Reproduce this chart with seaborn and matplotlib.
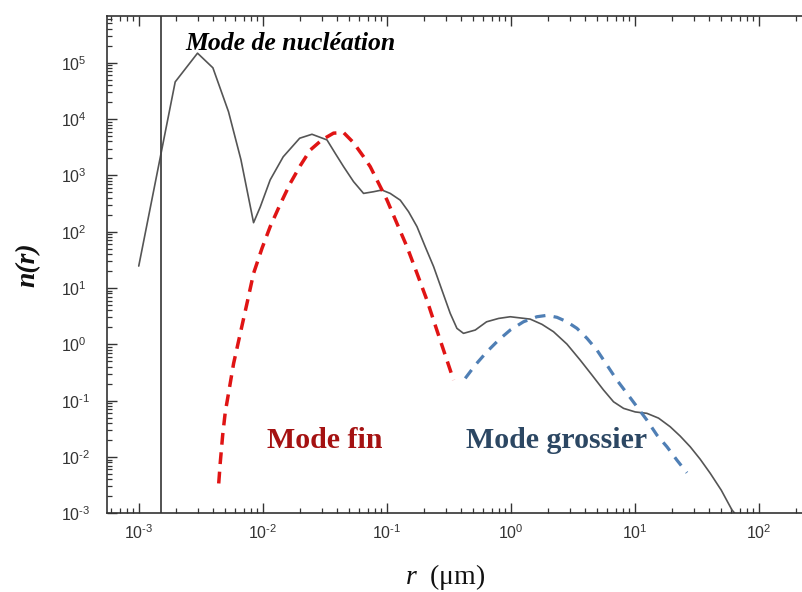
import numpy as np
import pandas as pd
import matplotlib
matplotlib.use("Agg")
import matplotlib.pyplot as plt
import seaborn as sns
from matplotlib.ticker import LogLocator, FuncFormatter, NullFormatter

# ---- data (log10 of r in µm, log10 of n(r)) ----
total_log_r = [-3.0, -2.706, -2.526, -2.402, -2.276, -2.176, -2.074, -2.020, -1.940,
               -1.835, -1.702, -1.603, -1.482, -1.415, -1.348, -1.268, -1.187, -1.106,
               -1.039, -0.972, -0.891, -0.824, -0.756, -0.689, -0.622, -0.555, -0.488,
               -0.434, -0.381, -0.286, -0.195, -0.098, -0.004, 0.157, 0.252, 0.345,
               0.453, 0.560, 0.655, 0.748, 0.829, 0.910, 1.004, 1.098, 1.192, 1.286,
               1.367, 1.448, 1.528, 1.609, 1.698, 1.784, 1.83]
total_log_n = [1.39, 4.66, 5.17, 4.91, 4.13, 3.28, 2.16, 2.44, 2.92,
               3.33, 3.66, 3.73, 3.63, 3.39, 3.155, 2.89, 2.68, 2.71,
               2.74, 2.68, 2.56, 2.355, 2.09, 1.73, 1.38, 0.964, 0.55,
               0.284, 0.195, 0.254, 0.40, 0.46, 0.49, 0.448, 0.355, 0.224,
               0.005, -0.279, -0.545, -0.81, -1.02, -1.137, -1.20, -1.225, -1.31, -1.463,
               -1.63, -1.82, -2.04, -2.29, -2.59, -2.94, -3.06]

fin_log_r = [-2.355, -2.343, -2.323, -2.302, -2.276, -2.235, -2.181, -2.127, -2.074,
             -2.006, -1.940, -1.859, -1.778, -1.698, -1.617, -1.523, -1.429, -1.348,
             -1.268, -1.187, -1.133, -1.079, -0.998, -0.918, -0.837, -0.756, -0.676,
             -0.623, -0.569, -0.515, -0.461]
fin_log_n = [-2.47, -2.11, -1.61, -1.20, -0.87, -0.34, 0.195, 0.728, 1.26,
             1.705, 2.09, 2.487, 2.86, 3.17, 3.45, 3.63, 3.75, 3.76,
             3.581, 3.332, 3.155, 2.918, 2.563, 2.149, 1.734, 1.261, 0.787,
             0.432, 0.076, -0.279, -0.634]

gros_log_r = [-0.367, -0.286, -0.192, -0.098, -0.004, 0.103, 0.211, 0.292, 0.373,
              0.453, 0.534, 0.615, 0.695, 0.776, 0.856, 0.937, 1.018, 1.098,
              1.179, 1.260, 1.340, 1.421]
gros_log_n = [-0.604, -0.368, -0.131, 0.076, 0.254, 0.401, 0.49, 0.515, 0.48,
              0.401, 0.284, 0.107, -0.101, -0.368, -0.634, -0.870, -1.108, -1.345,
              -1.611, -1.819, -2.055, -2.28]

nucleation_r = 1.5e-3
labels = ["Mode de nucléation", "Mode fin", "Mode grossier"]

df_total = pd.DataFrame({"r": np.power(10.0, total_log_r), "n": np.power(10.0, total_log_n)})
df_fin = pd.DataFrame({"r": np.power(10.0, fin_log_r), "n": np.power(10.0, fin_log_n)})
df_gros = pd.DataFrame({"r": np.power(10.0, gros_log_r), "n": np.power(10.0, gros_log_n)})

sns.set_style("ticks")
plt.rcParams["font.family"] = ["Liberation Sans", "DejaVu Sans"]
plt.rcParams["mathtext.fontset"] = "custom"
plt.rcParams["mathtext.default"] = "regular"
plt.rcParams["mathtext.it"] = "Liberation Serif:italic"
plt.rcParams["mathtext.rm"] = "Liberation Sans"
plt.rcParams["axes.unicode_minus"] = False


def pow_fmt(v, _pos):
    if v <= 0:
        return ""
    k = int(round(np.log10(v)))
    if k < 0:
        return r"$\mathdefault{10^{\text{-}%d}}$" % (-k)
    return r"$\mathdefault{10^{%d}}$" % k


fig = plt.figure(figsize=(8.02, 5.92), dpi=100)
W, H = 802.0, 592.0
ax = fig.add_axes([107 / W, (H - 513.3) / H, (W - 107) / W, (513.3 - 16) / H])

sns.lineplot(data=df_total, x="r", y="n", ax=ax, sort=False, estimator=None,
             color="#555555", lw=1.2)
sns.lineplot(data=df_fin, x="r", y="n", ax=ax, sort=False, estimator=None,
             color="#e01414", lw=2.5, linestyle=(0, (3.4, 2.2)))
sns.lineplot(data=df_gros, x="r", y="n", ax=ax, sort=False, estimator=None,
             color="#4f7fb5", lw=2.3, linestyle=(0, (3.3, 2.6)))
ax.axvline(nucleation_r, color="#444444", lw=1.3)

ax.set_xscale("log")
ax.set_yscale("log")
ax.set_xlim(10 ** -3.256, 10 ** 2.349)
ax.set_ylim(1e-3, 10 ** 5.83)

ax.xaxis.set_major_locator(LogLocator(base=10, numticks=20))
ax.xaxis.set_major_formatter(FuncFormatter(pow_fmt))
ax.xaxis.set_minor_locator(LogLocator(base=10, subs=np.arange(2, 10), numticks=20))
ax.xaxis.set_minor_formatter(NullFormatter())
ax.set_yticks([10.0 ** k for k in range(-3, 6)])
ax.yaxis.set_major_formatter(FuncFormatter(pow_fmt))
ax.yaxis.set_minor_locator(LogLocator(base=10, subs=np.arange(2, 10), numticks=20))
ax.yaxis.set_minor_formatter(NullFormatter())

for s in ["left", "bottom", "top"]:
    ax.spines[s].set_color("#333333")
    ax.spines[s].set_linewidth(1.2)
ax.spines["right"].set_visible(False)

ax.tick_params(which="both", direction="in", top=True, right=False, color="#333333",
               labelcolor="#333333", labelsize=11.5)
ax.tick_params(which="major", length=7, width=1.0)
ax.tick_params(which="minor", length=3.5, width=0.9)
ax.tick_params(axis="x", which="major", pad=7)
ax.tick_params(axis="y", which="major", pad=33)
for tl in ax.get_yticklabels():
    tl.set_horizontalalignment("left")

ax.set_xlabel(r"$\mathit{r}$  (μm)", fontsize=20, family="Liberation Serif", color="#111111")
ax.xaxis.set_label_coords(0.486, -0.128)
ax.xaxis.label.set_verticalalignment("center")
ax.set_ylabel("n(r)", fontsize=20, family="Liberation Serif", style="italic",
              weight="bold", color="#111111")
ax.yaxis.set_label_coords(-0.114, 0.50)
ax.yaxis.label.set_verticalalignment("center")

ax.text(10 ** -1.778, 10 ** 5.35, labels[0], fontsize=18.5, family="Liberation Serif",
        style="italic", weight="bold", color="black", ha="center", va="center")
ax.text(10 ** -1.496, 10 ** -1.70, labels[1], fontsize=21.5, family="Liberation Serif",
        weight="bold", color="#a51212", ha="center", va="center")
ax.text(10 ** 0.367, 10 ** -1.70, labels[2], fontsize=21.5, family="Liberation Serif",
        weight="bold", color="#2c4763", ha="center", va="center")

fig.savefig("out.png", dpi=100, facecolor="white")
